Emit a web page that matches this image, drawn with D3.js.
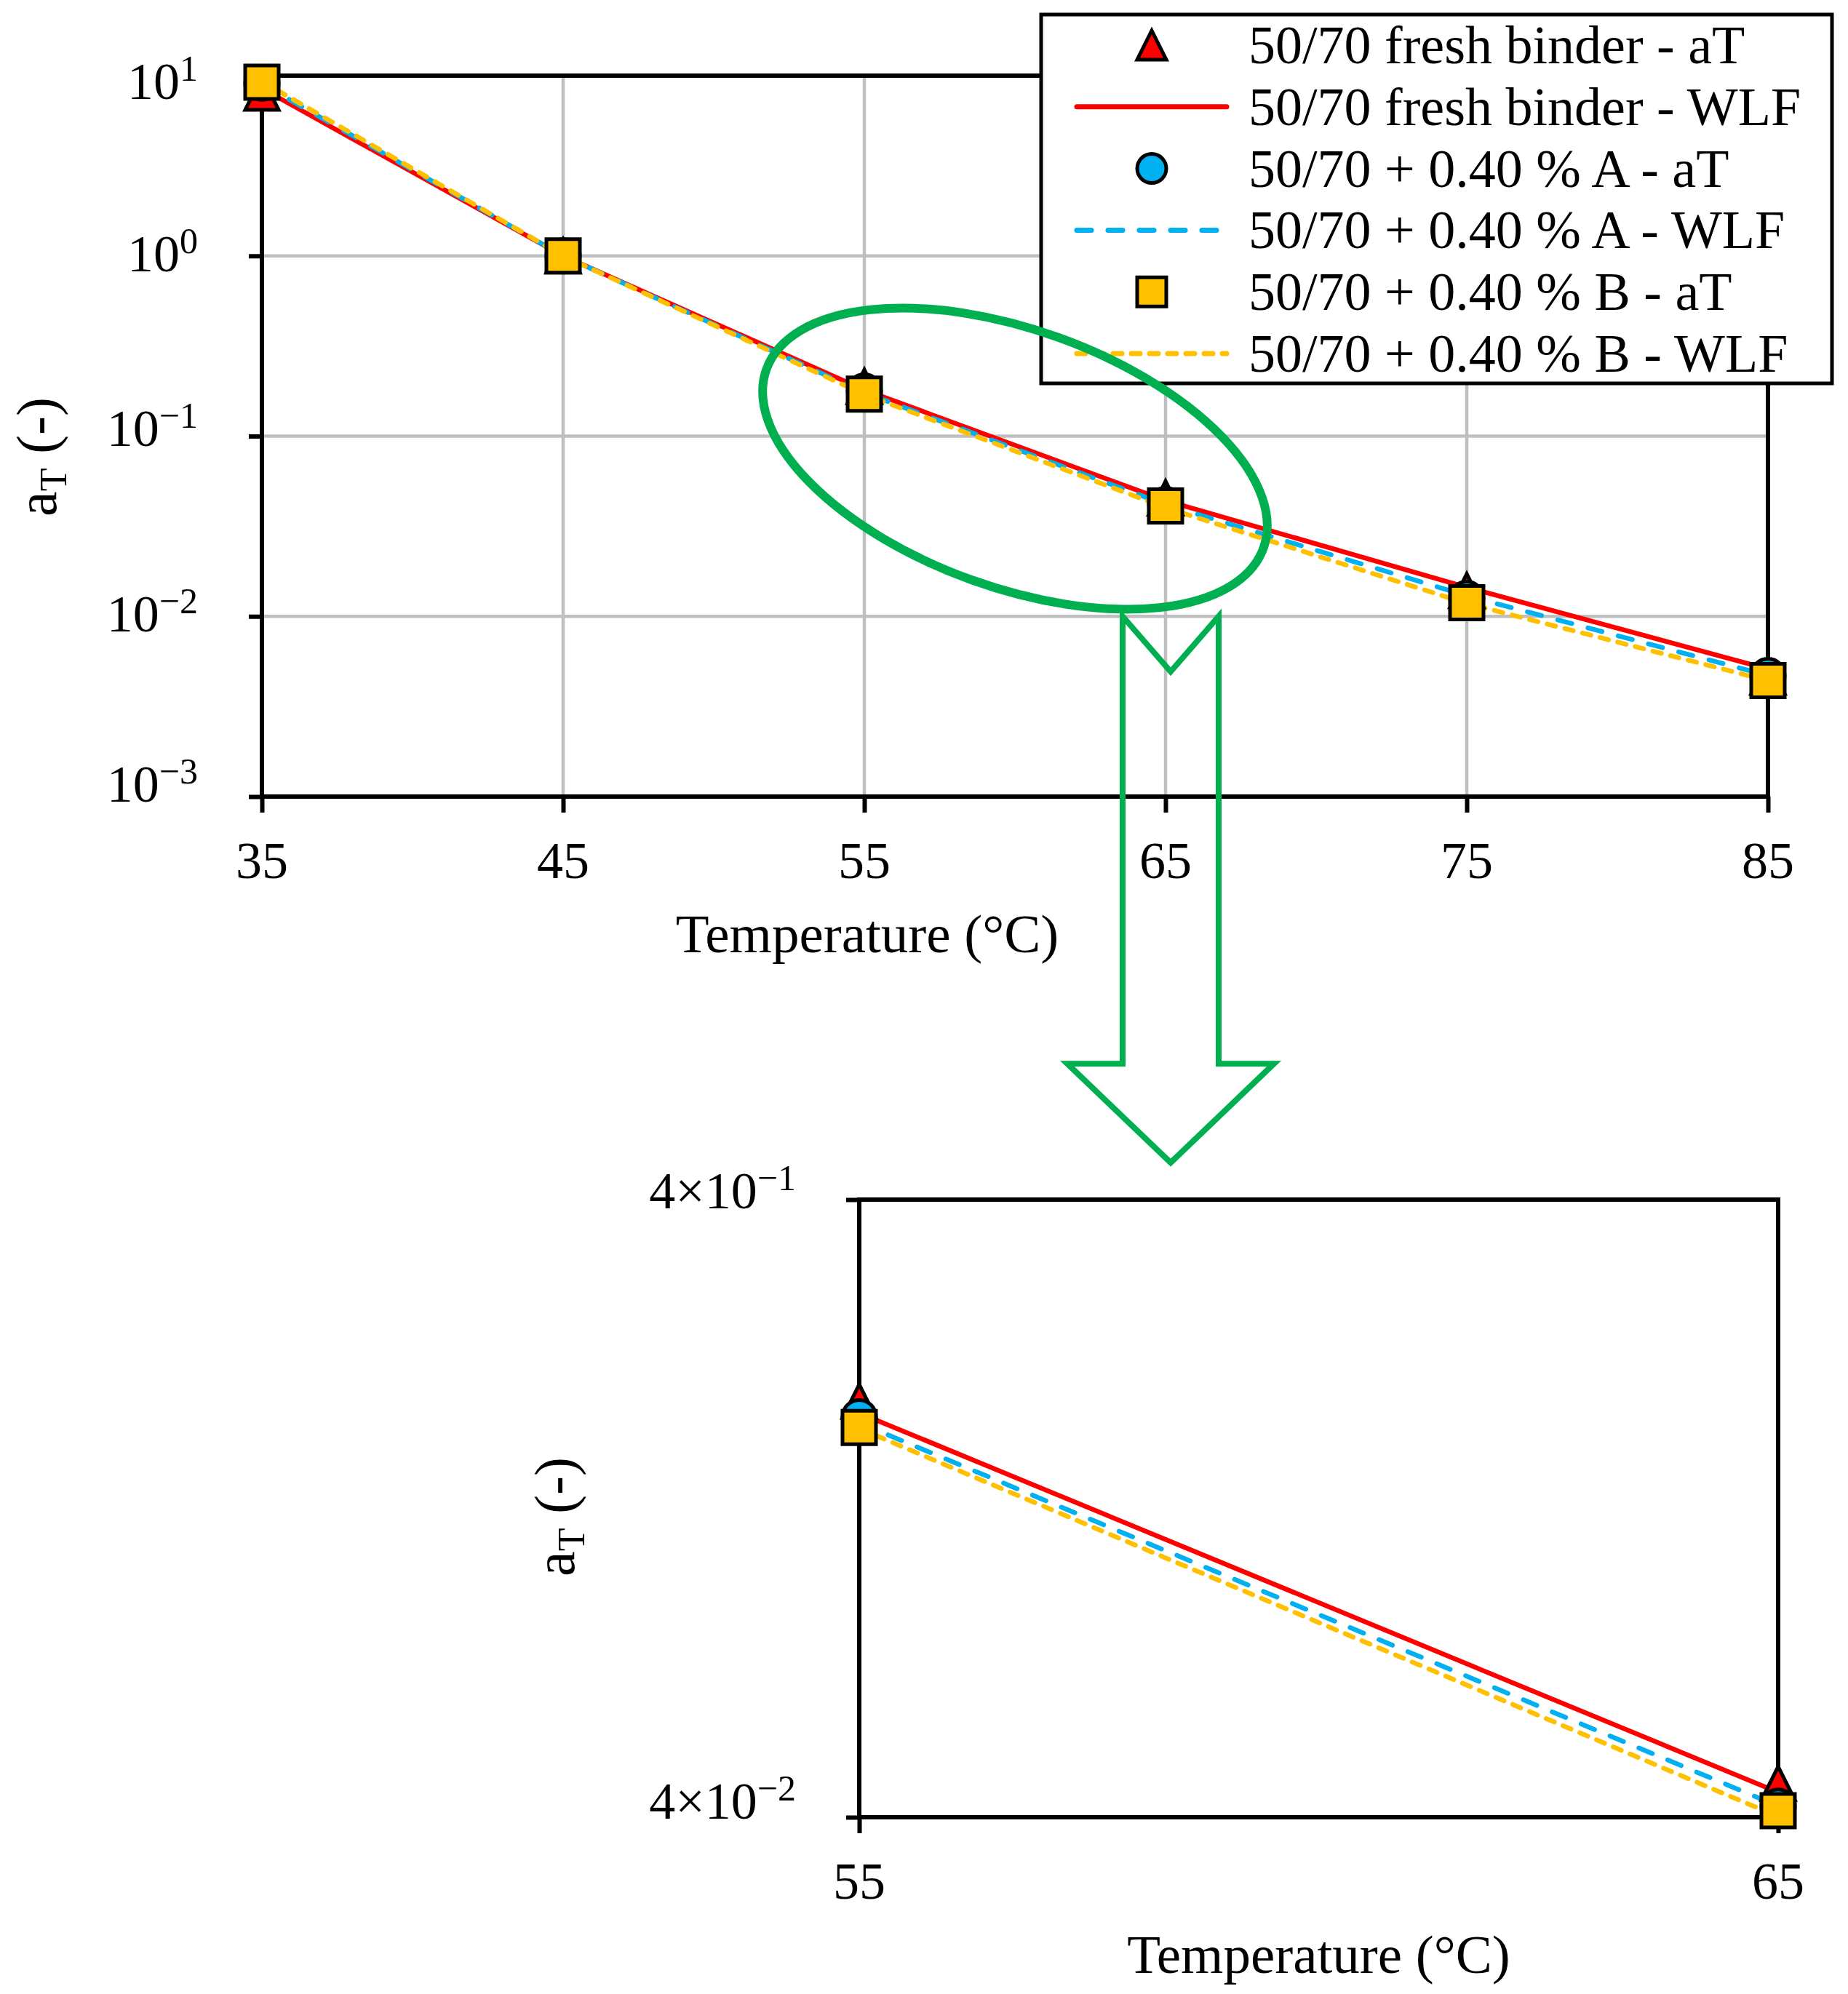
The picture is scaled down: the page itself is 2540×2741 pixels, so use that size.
<!DOCTYPE html>
<html>
<head>
<meta charset="utf-8">
<script src="https://cdn.jsdelivr.net/npm/d3@7"></script>
<style>
  html, body { margin: 0; padding: 0; background: #ffffff; }
  svg { display: block; }
  text { font-family: "Liberation Serif", "Times New Roman", Times, serif; fill: #000; }
</style>
</head>
<body>
<svg id="chart" width="2540" height="2741"></svg>
<script>
// ---------------- DATA ----------------
const temperatures = [35, 45, 55, 65, 75, 85];
const freshAT  = [8.0, 1.0, 0.1887, 0.0454, 0.0139, 0.0046];
const freshWLF = [8.5, 1.0, 0.1805, 0.0439, 0.0145, 0.0051];
const addAAT   = [9.1, 1.0, 0.178, 0.0417, 0.0126, 0.0047];
const addAWLF  = [9.0, 1.0, 0.174, 0.0417, 0.0130, 0.0047];
const addBAT   = [9.2, 1.0, 0.171, 0.0410, 0.0119, 0.0044];
const addBWLF  = [9.3, 1.0, 0.1704, 0.0401, 0.0118, 0.0044];

const seriesLabels = [
  "50/70 fresh binder - aT",
  "50/70 fresh binder - WLF",
  "50/70 + 0.40 % A - aT",
  "50/70 + 0.40 % A - WLF",
  "50/70 + 0.40 % B - aT",
  "50/70 + 0.40 % B - WLF"
];

const yTickValues = [10, 1, 0.1, 0.01, 0.001];
const yTickExponents = ["1", "0", "\u22121", "\u22122", "\u22123"];
const xTickLabels = ["35", "45", "55", "65", "75", "85"];

const zoomTemps = [55, 65];
const zoomYTicks = [0.4, 0.04];
const zoomYTickMantissa = ["4\u00d710", "4\u00d710"];
const zoomYTickExponents = ["\u22121", "\u22122"];
const zoomXTickLabels = ["55", "65"];

const xTitle = "Temperature (\u00b0C)";

// ---------------- STYLE ----------------
const RED = "#ff0000", BLUE = "#00b0f0", YELLOW = "#ffc000", GREEN = "#00b050", GRID = "#bfbfbf";
const yLabelShift = [32, 21, 13, 21, 7];     // baseline offsets of top-chart y tick labels
const zoomYLabelShift = [12, 2];             // baseline offsets of zoom-chart y tick labels

const lineSeries = [
  { values: freshWLF, color: RED,    dash: null,    label: seriesLabels[1] },
  { values: addAWLF,  color: BLUE,   dash: "20 23", label: seriesLabels[3] },
  { values: addBWLF,  color: YELLOW, dash: "12 13", label: seriesLabels[5] }
];
const markerSeries = [
  { values: freshAT, color: RED,    shape: "triangle", label: seriesLabels[0] },
  { values: addAAT,  color: BLUE,   shape: "circle",   label: seriesLabels[2] },
  { values: addBAT,  color: YELLOW, shape: "square",   label: seriesLabels[4] }
];

function markerPath(shape, s) {
  const h = s / 2;
  if (shape === "triangle") return `M0,${-h}L${h},${h}L${-h},${h}Z`;
  if (shape === "square") return `M${-h},${-h}h${s}v${s}h${-s}Z`;
  return `M${-h},0a${h},${h} 0 1,0 ${s},0a${h},${h} 0 1,0 ${-s},0Z`;
}

const svg = d3.select("#chart");

function drawPanel(opts) {
  const { x, y, temps, yTicks, gridX, gridY, box } = opts;
  const g = svg.append("g");
  g.selectAll("line.gx").data(gridX).join("line")
    .attr("x1", d => x(d)).attr("x2", d => x(d))
    .attr("y1", box.top).attr("y2", box.bottom)
    .attr("stroke", GRID).attr("stroke-width", 4.5);
  g.selectAll("line.gy").data(gridY).join("line")
    .attr("y1", d => y(d)).attr("y2", d => y(d))
    .attr("x1", box.left).attr("x2", box.right)
    .attr("stroke", GRID).attr("stroke-width", 4.5);
  const ax = g.append("g").attr("transform", `translate(0,${box.bottom})`)
    .call(d3.axisBottom(x).tickValues(temps).tickSize(22).tickSizeOuter(0).tickFormat(""));
  const ay = g.append("g").attr("transform", `translate(${box.left},0)`)
    .call(d3.axisLeft(y).tickValues(yTicks).tickSize(18).tickSizeOuter(0).tickFormat(""));
  [ax, ay].forEach(a => {
    a.select(".domain").remove();
    a.selectAll("line").attr("stroke", "#000").attr("stroke-width", 6);
  });
  g.append("rect")
    .attr("x", box.left).attr("y", box.top)
    .attr("width", box.right - box.left).attr("height", box.bottom - box.top)
    .attr("fill", "none").attr("stroke", "#000").attr("stroke-width", 6)
    .attr("stroke-linecap", "square");
  const idx = temperatures.map((t, i) => i).filter(i => temps.includes(temperatures[i]));
  const line = d3.line().x(d => x(d.t)).y(d => y(d.v));
  lineSeries.forEach(s => {
    const pts = idx.map(i => ({ t: temperatures[i], v: s.values[i] }));
    g.append("path").attr("d", line(pts))
      .attr("fill", "none").attr("stroke", s.color).attr("stroke-width", 6.5)
      .attr("stroke-linecap", s.dash ? "round" : "butt")
      .attr("stroke-linejoin", "round")
      .attr("stroke-dasharray", s.dash);
  });
  markerSeries.forEach(s => {
    const pts = idx.map(i => ({ t: temperatures[i], v: s.values[i] }));
    g.selectAll(null).data(pts).join("path")
      .attr("transform", d => `translate(${x(d.t)},${y(d.v)})`)
      .attr("d", markerPath(s.shape, 46))
      .attr("fill", s.color).attr("stroke", "#000").attr("stroke-width", 5)
      .attr("stroke-linejoin", "miter");
  });
  return g;
}

// ---------------- TOP CHART ----------------
const box1 = { left: 360, right: 2430, top: 104, bottom: 1095 };
const x1 = d3.scaleLinear().domain([35, 85]).range([box1.left, box1.right]);
const y1 = d3.scaleLog().domain([1e-3, 1e1]).range([box1.bottom, box1.top]);

const g1 = drawPanel({
  x: x1, y: y1, temps: temperatures, yTicks: yTickValues,
  gridX: temperatures.slice(1, -1), gridY: yTickValues.slice(1, -1), box: box1
});

g1.selectAll("text.xt").data(temperatures).join("text")
  .attr("x", d => x1(d)).attr("y", box1.bottom + 112)
  .attr("text-anchor", "middle").attr("font-size", 72)
  .text((d, i) => xTickLabels[i]);

const ytl = g1.selectAll("text.yt").data(yTickValues).join("text")
  .attr("x", box1.left - 88).attr("y", (d, i) => y1(d) + yLabelShift[i])
  .attr("text-anchor", "end").attr("font-size", 72);
ytl.append("tspan").text("10");
ytl.append("tspan").attr("dy", -25).attr("font-size", 50).text((d, i) => yTickExponents[i]);

g1.append("text").attr("x", 1192).attr("y", 1309)
  .attr("text-anchor", "middle").attr("font-size", 75).text(xTitle);
const yt1 = g1.append("text").attr("transform", "translate(77,628) rotate(-90)")
  .attr("text-anchor", "middle").attr("font-size", 78);
yt1.append("tspan").text("a");
yt1.append("tspan").attr("dy", 14).attr("font-size", 52).text("T");
yt1.append("tspan").attr("dy", -14).text(" (-)");

// legend
const legend = svg.append("g");
legend.append("rect").attr("x", 1431).attr("y", 20).attr("width", 1087).attr("height", 507)
  .attr("fill", "#fff").attr("stroke", "#000").attr("stroke-width", 5);
const legendItems = [
  { kind: "marker", s: markerSeries[0] },
  { kind: "line",   s: lineSeries[0] },
  { kind: "marker", s: markerSeries[1] },
  { kind: "line",   s: lineSeries[1] },
  { kind: "marker", s: markerSeries[2] },
  { kind: "line",   s: lineSeries[2] }
];
legendItems.forEach((it, i) => {
  const cy = 62 + i * 84.8;
  if (it.kind === "marker") {
    legend.append("path").attr("transform", `translate(1583,${cy})`)
      .attr("d", markerPath(it.s.shape, 40))
      .attr("fill", it.s.color).attr("stroke", "#000").attr("stroke-width", 5);
  } else {
    legend.append("line").attr("x1", 1480).attr("x2", 1686).attr("y1", cy).attr("y2", cy)
      .attr("stroke", it.s.color).attr("stroke-width", 7)
      .attr("stroke-linecap", "round").attr("stroke-dasharray", it.s.dash);
  }
  legend.append("text").attr("x", 1716).attr("y", cy + 25).attr("font-size", 74).text(it.s.label);
});

// annotation: ellipse + arrow
const ann = svg.append("g");
ann.append("ellipse")
  .attr("transform", `translate(${x1(60)},${y1(0.075)}) rotate(19.8)`)
  .attr("rx", 363).attr("ry", 177)
  .attr("fill", "none").attr("stroke", GREEN).attr("stroke-width", 12);
const ax0 = x1(65) + 7, atop = y1(0.01);
const arrowPts = [
  [ax0 - 66, atop], [ax0, atop + 76], [ax0 + 66, atop],
  [ax0 + 66, atop + 615], [ax0 + 142, atop + 615], [ax0, atop + 751],
  [ax0 - 142, atop + 615], [ax0 - 66, atop + 615]
];
ann.append("path").attr("d", "M" + arrowPts.map(p => p.join(",")).join("L") + "Z")
  .attr("fill", "none").attr("stroke", GREEN).attr("stroke-width", 8)
  .attr("stroke-linejoin", "miter");

// ---------------- BOTTOM (ZOOM) CHART ----------------
const box2 = { left: 1181, right: 2444, top: 1649, bottom: 2498 };
const x2 = d3.scaleLinear().domain([55, 65]).range([box2.left, box2.right]);
const y2 = d3.scaleLog().domain([0.04, 0.4]).range([box2.bottom, box2.top]);

const g2 = drawPanel({
  x: x2, y: y2, temps: zoomTemps, yTicks: zoomYTicks,
  gridX: [], gridY: [], box: box2
});

g2.selectAll("text.xt").data(zoomTemps).join("text")
  .attr("x", d => x2(d)).attr("y", box2.bottom + 112)
  .attr("text-anchor", "middle").attr("font-size", 72)
  .text((d, i) => zoomXTickLabels[i]);

const ytl2 = g2.selectAll("text.yt").data(zoomYTicks).join("text")
  .attr("x", 1094).attr("y", (d, i) => y2(d) + zoomYLabelShift[i])
  .attr("text-anchor", "end").attr("font-size", 72);
ytl2.append("tspan").text((d, i) => zoomYTickMantissa[i]);
ytl2.append("tspan").attr("dy", -25).attr("font-size", 50).text((d, i) => zoomYTickExponents[i]);

g2.append("text").attr("x", (box2.left + box2.right) / 2).attr("y", 2712)
  .attr("text-anchor", "middle").attr("font-size", 75).text(xTitle);
const yt2 = g2.append("text").attr("transform", "translate(789,2085) rotate(-90)")
  .attr("text-anchor", "middle").attr("font-size", 78);
yt2.append("tspan").text("a");
yt2.append("tspan").attr("dy", 14).attr("font-size", 52).text("T");
yt2.append("tspan").attr("dy", -14).text(" (-)");
</script>
</body>
</html>
